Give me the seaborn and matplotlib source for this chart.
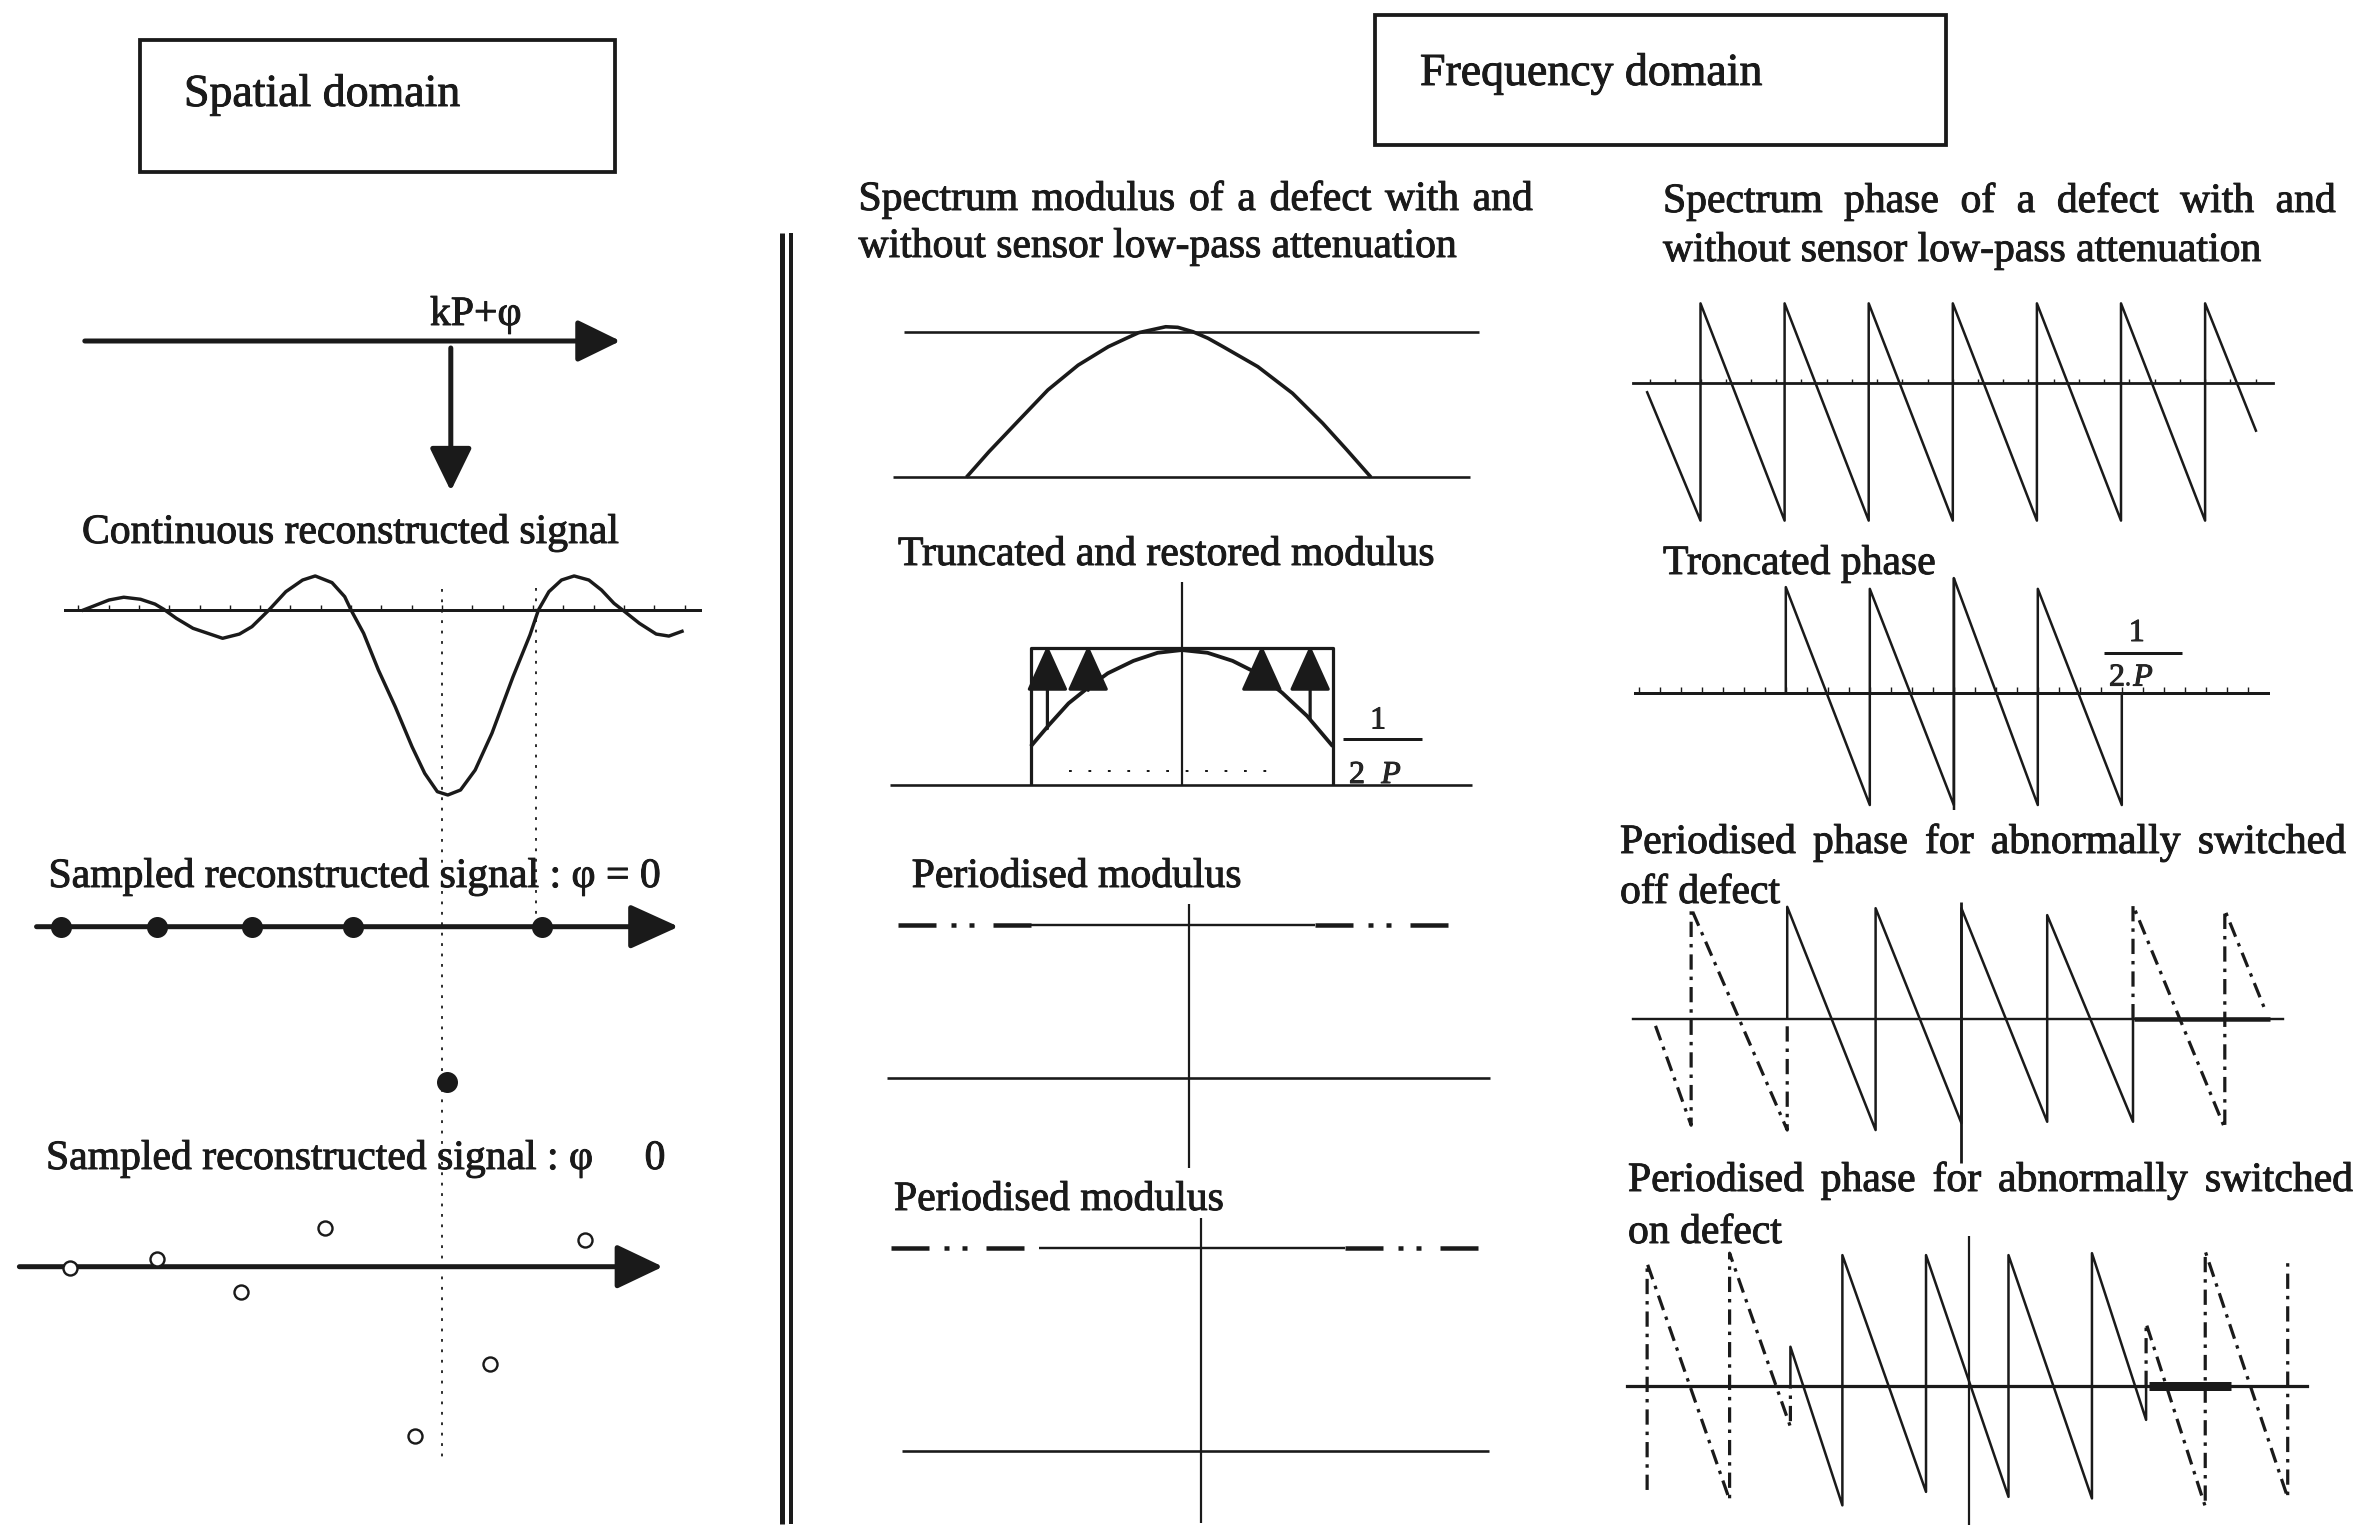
import matplotlib
matplotlib.use("Agg")
import matplotlib.pyplot as plt
import matplotlib.patheffects as pe
from matplotlib.patches import Rectangle
from matplotlib.ticker import MultipleLocator
import seaborn as sns

sns.set_theme(style="white")
plt.rcParams["font.family"] = ["Liberation Serif", "DejaVu Serif"]
plt.rcParams["lines.scale_dashes"] = False
plt.rcParams["lines.solid_capstyle"] = "butt"

W, H = 2370, 1526
PT = 0.72  # points per pixel at 100 dpi

# ------------------------------------------------------------------ data
# Spatial domain: position in sample periods P, amplitude normalised to the main lobe
cont_x = [-3.716, -3.608, -3.433, -3.281, -3.108, -2.959, -2.869, -2.739, -2.567,
          -2.392, -2.262, -2.088, -1.959, -1.784, -1.610, -1.437, -1.307, -1.134,
          -1.003, -0.938, -0.808, -0.656, -0.482, -0.309, -0.178, -0.048, 0.060,
          0.191, 0.342, 0.515, 0.732, 0.907, 0.994, 1.102, 1.232, 1.362, 1.514,
          1.644, 1.773, 1.884, 2.035, 2.208, 2.339, 2.491]
cont_y = [-0.004, 0.018, 0.054, 0.069, 0.058, 0.032, 0.004, -0.045, -0.099,
          -0.130, -0.153, -0.130, -0.090, 0.0, 0.099, 0.162, 0.184, 0.148,
          0.072, 0.0, -0.126, -0.324, -0.523, -0.739, -0.883, -0.982, -1.0,
          -0.973, -0.865, -0.666, -0.361, -0.135, 0.0, 0.099, 0.162, 0.184, 0.162,
          0.108, 0.036, -0.009, -0.072, -0.130, -0.141, -0.112]

# sampled signal, phi = 0
samp0_x = [-3.93, -2.94, -1.96, -0.92, 0.05, 1.03]
samp0_y = [0.0, 0.0, 0.0, 0.0, -1.0, 0.0]
# sampled signal, phi != 0
samp1_x = [-3.84, -2.94, -2.07, -1.21, -0.28, 0.49, 1.47]
samp1_y = [-0.01, 0.05, -0.16, 0.25, -1.09, -0.63, 0.17]

# Frequency domain: frequency in units of 1/(2P), modulus normalised
mod_f = [-1.34, -1.19, -0.99, -0.80, -0.60, -0.40, -0.28, -0.20, -0.02, 0.06,
         0.16, 0.26, 0.36, 0.59, 0.82, 1.02, 1.18, 1.34]
mod_v = [0.0, 0.176, 0.394, 0.60, 0.77, 0.897, 0.955, 0.993, 1.034, 1.03,
         1.0, 0.955, 0.897, 0.76, 0.577, 0.371, 0.188, 0.0]

trunc_f = [-1.0, -0.88, -0.75, -0.62, -0.49, -0.32, -0.16, 0.0, 0.17, 0.336,
           0.50, 0.665, 0.83, 1.0]
trunc_v = [0.28, 0.436, 0.595, 0.71, 0.815, 0.906, 0.965, 0.985, 0.965, 0.906,
           0.815, 0.672, 0.502, 0.28]
band_edges = [-1.0, 1.0]
flat_level = 1.0
restore_f = [-0.89, -0.62, 0.53, 0.85]
restore_from = [0.41, 0.69, 0.80, 0.48]
restore_to = 1.02

# Phase (rad) versus frequency index
phase_f = [-3.64, -3, -3, -2, -2, -1, -1, 0, 0, 1, 1, 2, 2, 3, 3, 3.61]
phase_v = [-0.24, -3.99, 2.30, -3.99, 2.30, -3.99, 2.30, -3.99, 2.30, -3.99,
           2.30, -3.99, 2.30, -3.99, 2.30, -1.42]

tphase_f = [-2, -2, -1, -1, 0, 0, 1, 1, 2, 2]
tphase_v = [0.0, 3.04, -3.24, 2.99, -3.24, 3.30, -3.24, 2.99, -3.24, 0.0]

off_f = [-2.03, -2.03, -1, -1, 0, 0, 1, 1, 2, 2]
off_v = [0.0, 3.26, -3.21, 3.22, -3.01, 3.22, -2.97, 3.02, -2.97, 0.0]
off_left_f = [-3.565, -3.15, -3.15, -2.03, -2.03]
off_left_v = [-0.19, -3.07, 3.22, -3.21, 0.0]
off_right_f = [2.0, 2.0, 3.07, 3.07, 3.54]
off_right_v = [0.0, 3.31, -3.16, 3.17, 0.27]

on_f = [-2.15, -2.15, -1.526, -1.526, -0.522, -0.522, 0.468, 0.468, 1.47, 1.47, 2.12, 2.12]
on_v = [0.0, 1.02, -3.10, 3.40, -2.75, 3.40, -2.88, 3.40, -2.92, 3.45, -0.88, 0.0]
on_left_f = [-3.87, -3.87, -2.88, -2.88, -2.15, -2.15]
on_left_v = [-2.70, 3.19, -2.96, 3.45, -1.06, 0.0]
on_right_f = [2.12, 2.12, 2.83, 2.83, 3.82, 3.82]
on_right_v = [0.0, 1.63, -3.13, 3.50, -2.90, 3.36]

# ------------------------------------------------------------------ figure
fig = plt.figure(figsize=(W / 100, H / 100), dpi=100)
fig.patch.set_facecolor("white")

page = fig.add_axes([0, 0, 1, 1])
page.set_xlim(0, W)
page.set_ylim(H, 0)
page.axis("off")


def panel(xc, sx, y0, sy, xlim, ylim):
    """Axes whose data origin sits at pixel (xc, y0) with sx, sy pixels per unit."""
    left = xc + sx * xlim[0]
    right = xc + sx * xlim[1]
    top = y0 - sy * ylim[1]
    bottom = y0 - sy * ylim[0]
    ax = fig.add_axes([left / W, 1 - bottom / H, (right - left) / W, (bottom - top) / H])
    ax.set_xlim(*xlim)
    ax.set_ylim(*ylim)
    ax.patch.set_visible(False)
    for sp in ax.spines.values():
        sp.set_visible(False)
    ax.set_xticks([])
    ax.set_yticks([])
    ax.grid(False)
    return ax


def zero_axis(ax, lw_px, step=None, tick_px=5):
    sp = ax.spines["bottom"]
    sp.set_visible(True)
    sp.set_position(("data", 0))
    sp.set_linewidth(lw_px * PT)
    sp.set_color("k")
    if step:
        ax.xaxis.set_major_locator(MultipleLocator(step))
        ax.tick_params(axis="x", direction="in", length=tick_px * PT, width=1.4 * PT,
                       color="k", labelbottom=False, bottom=True)


def arrow(ax, x0, y0, x1, y1, lw_px, head_len_px, head_half_px):
    style = f"-|>,head_length={head_len_px * PT:.1f},head_width={head_half_px * PT:.1f}"
    ax.annotate("", xy=(x1, y1), xytext=(x0, y0), xycoords="data", textcoords="data",
                annotation_clip=False,
                arrowprops=dict(arrowstyle=style, mutation_scale=1, lw=lw_px * PT,
                                color="k", shrinkA=0, shrinkB=0))


def line(ax, xs, ys, lw_px, **kw):
    ax.plot(xs, ys, color="k", lw=lw_px * PT, clip_on=False, **kw)


DOT = (0, (2.0, 5.5))
DASHDOT = (0, (11, 5, 2.5, 5))
DASHDOTDOT = (0, tuple(v * PT for v in (38, 15, 5, 13, 5, 19)))

# ------------------------------------------------------------------ page furniture
page.add_patch(Rectangle((139.6, 40.3), 475, 131.7, fill=False, lw=3.8 * PT, ec="k"))
page.add_patch(Rectangle((1374.7, 15), 571.3, 130, fill=False, lw=3.8 * PT, ec="k"))
line(page, [782, 782], [233, 1524], 5)
line(page, [791, 791], [233, 1524], 4)

arrow(page, 84.8, 341, 620.4, 341, 5, 37, 18)
arrow(page, 450.8, 348, 450.8, 491, 5, 37, 18)

TXT = 30
INK = [pe.withStroke(linewidth=0.7, foreground="k")]


def label(x, y, s, size=TXT, **kw):
    return page.text(x, y, s, fontsize=size, va="baseline", ha="left", color="k",
                     path_effects=INK, **kw)


def justified(s, x0, x1, y, size=TXT):
    r = fig.canvas.get_renderer()
    words = s.split()
    objs = [label(0, y, w, size) for w in words]
    widths = [t.get_window_extent(renderer=r).width for t in objs]
    gap = (x1 - x0 - sum(widths)) / (len(words) - 1)
    x = x0
    for t, w in zip(objs, widths):
        t.set_x(x)
        x += w + gap


label(184, 106, "Spatial domain", 33)
label(1420, 85, "Frequency domain", 33)
label(430, 325, "kP+φ")
label(82, 543, "Continuous reconstructed signal")
label(48.5, 887, "Sampled reconstructed signal : φ = 0")
label(46, 1169, "Sampled reconstructed signal : φ")
label(644.6, 1169, "0")

justified("Spectrum modulus of a defect with and", 858.5, 1533, 210)
label(858.5, 257, "without sensor low-pass attenuation")
label(898, 565, "Truncated and restored modulus")
label(911.7, 887, "Periodised modulus")
label(894, 1210, "Periodised modulus")

justified("Spectrum phase of a defect with and", 1663, 2336, 212)
label(1663, 261, "without sensor low-pass attenuation")
label(1663, 574, "Troncated phase")
justified("Periodised phase for abnormally switched", 1620, 2346, 853)
label(1620, 903, "off defect")
justified("Periodised phase for abnormally switched", 1628, 2353, 1191)
label(1628, 1243, "on defect")

# 1/(2P) labels
FR = 23
page.text(1378, 728.5, "1", fontsize=FR, ha="center", va="baseline", path_effects=INK)
line(page, [1343, 1421.5], [738.5, 738.5], 3)
page.text(1357, 783, "2", fontsize=FR, ha="center", va="baseline", path_effects=INK)
page.text(1391, 783, "P", fontsize=FR, ha="center", va="baseline", style="italic",
          path_effects=INK)

page.text(2136.7, 641, "1", fontsize=FR, ha="center", va="baseline", path_effects=INK)
line(page, [2104, 2182], [653.4, 653.4], 3)
page.text(2117, 685.6, "2", fontsize=FR, ha="center", va="baseline", path_effects=INK)
page.text(2128, 685.6, ".", fontsize=FR, ha="center", va="baseline")
page.text(2143, 685.6, "P", fontsize=FR, ha="center", va="baseline", style="italic",
          path_effects=INK)

# ------------------------------------------------------------------ spatial domain
XC_L, SX_L = 442, 97

axL1 = panel(XC_L, SX_L, 610, 185, (-3.89, 2.664), (-1.1, 0.3))
zero_axis(axL1, 3, step=0.3125, tick_px=5)
sns.lineplot(x=cont_x, y=cont_y, ax=axL1, color="k", linewidth=3.4 * PT,
             sort=False, estimator=None)

axL2 = panel(XC_L, SX_L, 926.7, 155, (-4.4, 2.6), (-1.2, 0.3))
arrow(axL2, -4.18, 0, 2.44, 0, 5, 42, 19)
sns.scatterplot(x=samp0_x, y=samp0_y, ax=axL2, color="k", s=(21 * PT) ** 2,
                linewidth=0, zorder=5, clip_on=False)

axL3 = panel(XC_L, SX_L, 1266.7, 155, (-4.5, 2.5), (-1.2, 0.5))
arrow(axL3, -4.357, 0, 2.278, 0, 5, 40, 19)
axL3.plot(samp1_x, samp1_y, ls="none", marker="o", ms=14 * PT, mfc="white",
          mec="k", mew=2.4 * PT, zorder=5, clip_on=False)

# sample-position guides through the whole column
gl, gr = -4.6, 2.8
axG = fig.add_axes([(XC_L + SX_L * gl) / W, 0, SX_L * (gr - gl) / W, 1])
axG.set_xlim(gl, gr)
axG.set_ylim(H, 0)
axG.axis("off")
axG.vlines([0.0, 0.97], [589, 588], [1458, 915], colors="k", lw=1.8 * PT, linestyles=[DOT])

# ------------------------------------------------------------------ modulus column
axM1 = panel(1168.7, 151, 477.3, 145.6, (-1.9, 2.1), (-0.1, 1.15))
line(axM1, [-1.75, 2.055], [flat_level, flat_level], 2.6)
line(axM1, [-1.826, 1.995], [0, 0], 2.6)
sns.lineplot(x=mod_f, y=mod_v, ax=axM1, color="k", linewidth=3.6 * PT,
             sort=False, estimator=None)

axM2 = panel(1181.8, 151, 784.6, 136.6, (-2.0, 2.0), (-0.1, 1.55))
line(axM2, [-1.93, 1.92], [0, 0], 2.6)
line(axM2, [band_edges[0], band_edges[0], band_edges[1], band_edges[1]],
     [0, flat_level, flat_level, 0], 3.2)
line(axM2, [0, 0], [-0.01, 1.48], 2.2)
line(axM2, [-0.75, 0.62], [0.1, 0.1], 2, ls=(0, (2, 12)))
sns.lineplot(x=trunc_f, y=trunc_v, ax=axM2, color="k", linewidth=3.8 * PT,
             sort=False, estimator=None)
for f, v0 in zip(restore_f, restore_from):
    arrow(axM2, f, v0, f, restore_to, 3.2, 40, 18)


def periodised(ax, left, mid, right):
    line(ax, left, [flat_level, flat_level], 4.5, ls=DASHDOTDOT)
    line(ax, mid, [flat_level, flat_level], 2.4)
    line(ax, right, [flat_level, flat_level], 4.5, ls=DASHDOTDOT)


axP1 = panel(1188.8, 151, 1078, 153, (-2.1, 2.1), (-0.65, 1.2))
periodised(axP1, [-1.926, -1.045], [-1.045, 0.833], [0.833, 1.728])
line(axP1, [-2.0, 1.995], [0, 0], 2.6)
line(axP1, [0, 0], [-0.59, 1.14], 2.2)

axP2 = panel(1201, 151, 1451, 203, (-2.1, 2.1), (-0.4, 1.2))
periodised(axP2, [-2.05, -1.166], [-1.075, 0.954], [0.954, 1.858])
line(axP2, [-1.98, 1.905], [0, 0], 2.6)
line(axP2, [0, 0], [-0.355, 1.148], 2.2)

# ------------------------------------------------------------------ phase column
SAW = 2.5

axR1 = panel(1952.8, 84.1, 382.8, 34.54, (-3.80, 3.81), (-4.2, 2.5))
zero_axis(axR1, 2.8, step=0.3, tick_px=4)
sns.lineplot(x=phase_f, y=phase_v, ax=axR1, color="k", linewidth=SAW * PT,
             sort=False, estimator=None)

axR2 = panel(1953.8, 84, 692.6, 34.7, (-3.80, 3.74), (-3.6, 3.5))
zero_axis(axR2, 3, step=0.25, tick_px=6)
sns.lineplot(x=tphase_f, y=tphase_v, ax=axR2, color="k", linewidth=SAW * PT,
             sort=False, estimator=None)
line(axR2, [0, 0], [-3.38, 3.30], SAW)

axR3 = panel(1961.4, 85.8, 1019.3, 34.5, (-3.83, 3.75), (-4.3, 3.5))
zero_axis(axR3, 2.4)
line(axR3, [2.01, 3.6], [0, 0], 4.5)
sns.lineplot(x=off_f, y=off_v, ax=axR3, color="k", linewidth=SAW * PT,
             sort=False, estimator=None)
line(axR3, off_left_f, off_left_v, 3.2, ls=DASHDOT)
line(axR3, off_right_f, off_right_v, 3.2, ls=DASHDOT)
line(axR3, [0, 0], [-4.17, 3.41], 2.8)

axR4 = panel(1969.5, 83.3, 1386, 38.5, (-4.11, 4.05), (-3.8, 4.0))
zero_axis(axR4, 3.2)
line(axR4, [2.15, 3.14], [0, 0], 9)
sns.lineplot(x=on_f, y=on_v, ax=axR4, color="k", linewidth=SAW * PT,
             sort=False, estimator=None)
line(axR4, on_left_f, on_left_v, 3.2, ls=DASHDOT)
line(axR4, on_right_f, on_right_v, 3.2, ls=DASHDOT)
line(axR4, [0, 0], [-3.61, 3.89], 2.2)

fig.savefig("out.png", dpi=100, facecolor="white")
